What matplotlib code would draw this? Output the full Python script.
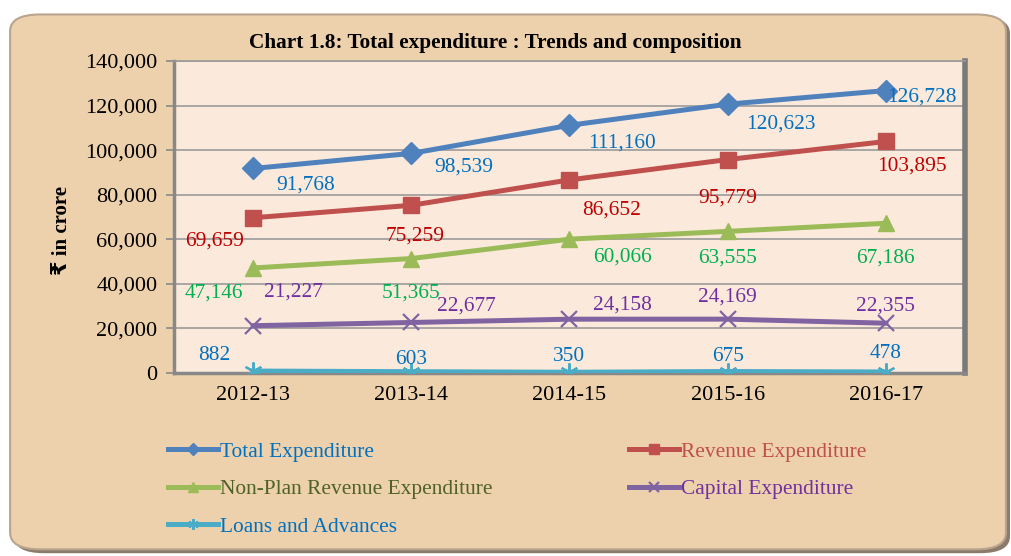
import matplotlib
matplotlib.use("Agg")
import matplotlib.pyplot as plt
from matplotlib.patches import FancyBboxPatch

years = ["2012-13", "2013-14", "2014-15", "2015-16", "2016-17"]
total_exp = [91768, 98539, 111160, 120623, 126728]
revenue_exp = [69659, 75259, 86652, 95779, 103895]
nonplan_rev = [47146, 51365, 60066, 63555, 67186]
capital_exp = [21227, 22677, 24158, 24169, 22355]
loans_adv = [882, 603, 350, 675, 478]

yticks = [0, 20000, 40000, 60000, 80000, 100000, 120000, 140000]

plt.rcParams['font.family'] = ['Liberation Serif', 'DejaVu Sans']

fig = plt.figure(figsize=(10.11, 5.56), dpi=100)
fig.patch.set_facecolor('white')

# outer chart box
shadow = FancyBboxPatch((0.014, 0.005), 0.985, 0.965, boxstyle="round,pad=0,rounding_size=0.03",
                        transform=fig.transFigure, facecolor='#8c7b6b', edgecolor='none', zorder=-2)
box = FancyBboxPatch((0.010, 0.012), 0.985, 0.962, boxstyle="round,pad=0,rounding_size=0.03",
                     transform=fig.transFigure, facecolor='#EDD0AC', edgecolor='#b9a58e', lw=1.5, zorder=-1)
fig.patches.extend([shadow, box])

ax = fig.add_axes([0.1721, 0.3291, 0.7824, 0.5612])
ax.set_zorder(2)
ax.set_facecolor('#FBEADB')
x = list(range(len(years)))

series = [
    (total_exp, '#4F81BD', 'D', 11, 'Total Expenditure'),
    (revenue_exp, '#C0504D', 's', 12, 'Revenue Expenditure'),
    (nonplan_rev, '#9BBB59', '^', 12, 'Non-Plan Revenue Expenditure'),
    (capital_exp, '#8064A2', 'x', 12, 'Capital Expenditure'),
    (loans_adv, '#4BACC6', (6, 2, 0), 13, 'Loans and Advances'),
]
handles = {}
for vals, col, mk, ms, name in series:
    kw = dict(markeredgewidth=1.6) if mk in ('x',) or isinstance(mk, tuple) else {}
    h, = ax.plot(x, vals, color=col, lw=3.6, marker=mk, markersize=ms,
                 markerfacecolor=col, markeredgecolor=col, label=name, zorder=3, **kw)
    handles[name] = h

ax.set_xlim(-0.5, 4.5)
ax.set_ylim(0, 140000)
ax.set_yticks(yticks)
ax.set_yticklabels([f"{v:,}" for v in yticks])
ax.set_xticks(x)
ax.set_xticklabels(years)
ax.tick_params(axis='both', labelsize=16, colors='black', length=6, width=1.2, color='#888888')
ax.tick_params(axis='y', pad=6)
ax.tick_params(axis='x', length=0, pad=9)
ax.grid(axis='y', color='#9a9a9a', lw=1.2, zorder=1)
ax.spines['top'].set_color('#9a9a9a')
ax.spines['top'].set_linewidth(1.2)
ax.spines['right'].set_color('#7a7a7a')
ax.spines['right'].set_linewidth(4)
ax.spines['left'].set_color('#888888')
ax.spines['left'].set_linewidth(2.5)
ax.spines['bottom'].set_color('#888888')
ax.spines['bottom'].set_linewidth(2.5)

# data labels (offsets in points)
def lab(vals, offsets, color):
    for i, (v, (dx, dy)) in enumerate(zip(vals, offsets)):
        ax.annotate(f"{v:,}", (i, v), xytext=(dx, dy), textcoords='offset points',
                    ha='center', va='center', fontsize=15.4, color=color, zorder=4)

lab(total_exp, [(38, -12), (38, -10), (38, -13), (38, -14), (26, -5)], '#0070C0')
lab(revenue_exp, [(-28, -17), (3, -22), (30, -22), (0, -28), (19, -18)], '#C00000')
lab(nonplan_rev, [(-28, -18), (0, -25), (38, -13), (0, -19), (0, -25)], '#00B050')
lab(capital_exp, [(29, 24), (40, 12), (38, 10), (0, 16), (0, 12)], '#7030A0')
lab(loans_adv, [(-28, 11), (0, 9), (0, 11), (0, 11), (0, 13)], '#0070C0')

fig.text(0.490, 0.922, "Chart 1.8: Total expenditure : Trends and composition",
         ha='center', va='center', fontsize=15.3, fontweight='bold')
fig.text(0.0615, 0.586, "₹ in crore", rotation=90, ha='center', va='center',
         fontsize=15, fontweight='bold')

order = ['Total Expenditure', 'Non-Plan Revenue Expenditure', 'Loans and Advances',
         'Revenue Expenditure', 'Capital Expenditure']
leg = fig.legend([handles[n] for n in order], order, ncol=2, loc='upper left',
                 bbox_to_anchor=(0.147, 0.24), frameon=False, fontsize=15.4,
                 handlelength=2.35, handletextpad=0.1, columnspacing=6.35,
                 labelspacing=0.82, markerscale=0.6)
txtcols = {'Total Expenditure': '#0070C0', 'Non-Plan Revenue Expenditure': '#4F6228',
           'Loans and Advances': '#0070C0', 'Revenue Expenditure': '#C0504D',
           'Capital Expenditure': '#7030A0'}
for t in leg.get_texts():
    t.set_color(txtcols[t.get_text()])

fig.savefig("out.png", dpi=100, facecolor=fig.get_facecolor())
